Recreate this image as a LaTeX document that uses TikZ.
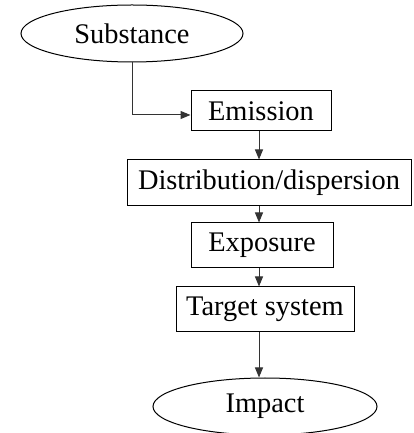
\documentclass[tikz,border=0pt]{standalone}
\usepackage{fontspec}
\setmainfont{Liberation Serif}
\usetikzlibrary{calc,shapes.geometric,arrows.meta}

\begin{document}
\begin{tikzpicture}[x=1pt,y=1pt,
                    stage/.style={draw,line width=1pt,inner sep=0pt,font=\fontsize{28.4}{32}\selectfont},
                    stage box/.style={stage,rectangle},
                    stage end/.style={stage,ellipse},
                    flow/.style={draw=black!80,line width=1pt,-{Triangle[length=10pt,width=8pt]}}]
            \useasboundingbox (0,0) rectangle (413,433);
            \node[stage end,minimum width=222,minimum height=57] (substance) at (132,399.5) {Substance};
            \node[stage box,minimum width=140,minimum height=40] (emission) at (261,322) {Emission};
            \node[stage box,minimum width=284,minimum height=46] (dispersion) at (269,250) {Distribution/dispersion};
            \node[stage box,minimum width=142,minimum height=45] (exposure) at (262,187.5) {Exposure};
            \node[stage box,minimum width=178,minimum height=45] (target) at (265,123.5) {Target system};
            \node[stage end,minimum width=224,minimum height=57] (impact) at (265,26.5) {Impact};
            \coordinate (spine) at (259,0);
            \draw[flow] (substance.south) |- ($ (emission.west) + (0,-4) $);
            \draw[flow] (emission.south -| spine) -- (dispersion.north -| spine);
            \draw[flow] (dispersion.south -| spine) -- (exposure.north -| spine);
            \draw[flow] (exposure.south -| spine) -- (target.north -| spine);
            \draw[flow] (target.south -| spine) -- (impact.north -| spine);

        \end{tikzpicture}
\end{document}
